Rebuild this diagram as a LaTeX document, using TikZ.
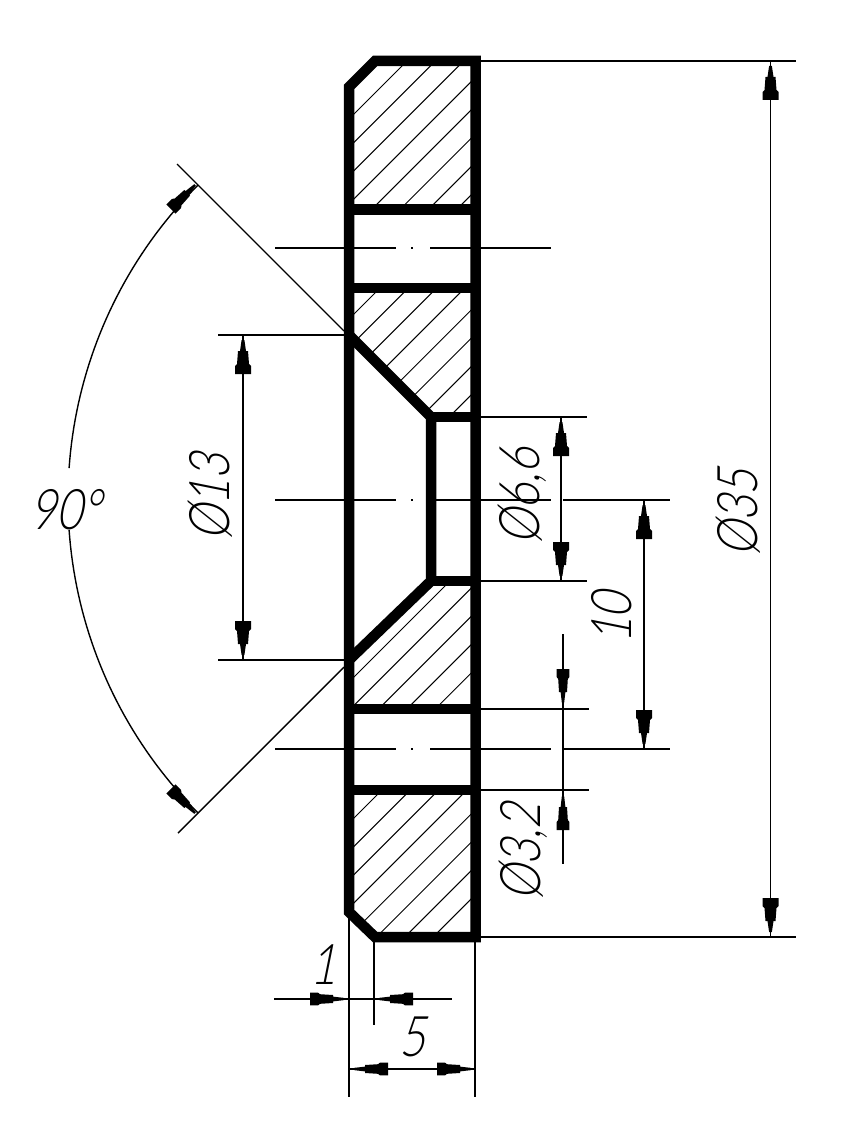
\documentclass[tikz,border=0pt]{standalone}
\usepackage{fontspec}
\newfontface\cad[FakeSlant=0.2,FakeStretch=0.8]{Lato Light}
\tikzset{
  x=1pt,y=-1pt,
  thick part/.style={line width=10.5pt,line join=miter,line cap=butt},
  thin line/.style={line width=1.4pt},
  hatch line/.style={line width=1pt},
  dim label/.style={font=\cad\fontsize{56}{56}\selectfont,inner sep=0pt,text=black},
  side label/.style={dim label,rotate=90},
  head/.pic={\fill[black] (0,-1.4)--(11,-3)--(11,-5)--(24,-6)--(26,-8)--(34,-8)--(34,8)--(26,8)--(24,6)--(11,5)--(11,3)--(0,1.4)--cycle;}
}
\newcommand{\hatchin}[3]{%
  \begin{scope}
    \clip #1;
    \foreach \k in {0,...,#3} \draw[hatch line] ({#2+28.3*\k-1100},1100)--({#2+28.3*\k},0);
  \end{scope}}
\begin{document}
\begin{tikzpicture}
\useasboundingbox (0,0) rectangle (844,1129);
\fill[white] (0,0) rectangle (844,1129);
% hatching
\hatchin{(349,87)--(375,61)--(475,61)--(475,209)--(349,209)--cycle}{468}{7}
\hatchin{(349,288)--(475,288)--(475,417)--(431,417)--(349,335)--cycle}{668}{7}
\hatchin{(349,660)--(431,581)--(475,581)--(475,709)--(349,709)--cycle}{1031}{4}
\hatchin{(349,790)--(475,790)--(475,937)--(375,937)--(349,912)--cycle}{1172}{7}
% part outline
\draw[thick part] (349,912)--(349,87)--(375,61)--(475.5,61)--(475.5,937)--(375,937)--cycle;
\draw[thick part] (349,209.5)--(475,209.5) (349,288)--(475,288) (349,709)--(475,709) (349,790)--(475,790);
\draw[thick part] (349,335)--(431,417)--(431,581)--(349,660);
\draw[thick part] (431,417)--(475,417) (431,581)--(475,581);
% centre lines
\foreach \yy in {248,500,749}{
  \draw[thin line] (275,\yy)--(396,\yy) (411,\yy)--(413,\yy) (430,\yy)--(551,\yy);
}
% extension lines
\draw[thin line] (563,500)--(670,500) (563,749)--(670,749);
\draw[thin line] (481,61)--(796,61) (481,937)--(796,937);
\draw[thin line] (481,417)--(587,417) (481,581)--(587,581);
\draw[thin line] (481,709)--(589,709) (481,790)--(589,790);
\draw[thin line] (218,335)--(345,335) (218,660)--(345,660);
\draw[thin line] (344,331)--(177,164) (344,667)--(178,833);
\draw[thin line] (349,912)--(349,1097) (475,937)--(475,1097) (374,937)--(374,1025);
% dimension lines
\draw[thin line] (770.5,61)--(770.5,937);
\draw[thin line] (644,500)--(644,749);
\draw[thin line] (561,417)--(561,581);
\draw[thin line] (563,634)--(563,864);
\draw[thin line] (243,335)--(243,660);
\draw[thin line] (274,999)--(452,999);
\draw[thin line] (349,1069)--(475,1069);
\draw[thin line] plot[domain=135:176,samples=40] ({512+444*cos(\x)},{499-444*sin(\x)});
\draw[thin line] plot[domain=184:225,samples=40] ({512+444*cos(\x)},{499-444*sin(\x)});
% arrowheads
\path (770.5,66) pic[rotate=-90] {head};
\path (770.5,932) pic[rotate=90] {head};
\path (644,505) pic[rotate=-90] {head};
\path (644,744) pic[rotate=90] {head};
\path (561,422) pic[rotate=-90] {head};
\path (561,576) pic[rotate=90] {head};
\path (563,703) pic[rotate=90,yscale=0.8] {head};
\path (563,796) pic[rotate=-90,yscale=0.8] {head};
\path (243,340) pic[rotate=-90] {head};
\path (243,655) pic[rotate=90] {head};
\path (344,999) pic[rotate=180,yscale=0.8] {head};
\path (379,999) pic[rotate=0,yscale=0.8] {head};
\path (354,1069) pic[rotate=0,yscale=0.8] {head};
\path (471,1069) pic[rotate=180,yscale=0.8] {head};
\path (195,185) pic[rotate=225,yscale=0.8] {head};
\path (195,813) pic[rotate=135,yscale=0.8] {head};
% labels
\node[side label] (d35) at (738,513) {Ø35};
\node[side label] (d13) at (210,497) {Ø13};
\node[side label] (d66) at (522,496) {Ø6,6};
\node[side label] (d10) at (612,618) {10};
\node[side label] (d32) at (523,852) {Ø3,2};
\node[dim label] (ang) at (66,510) {90°};
\node[dim label] (one) at (323,965) {1};
\node[dim label] (five) at (412,1037) {5};
\end{tikzpicture}
\end{document}
